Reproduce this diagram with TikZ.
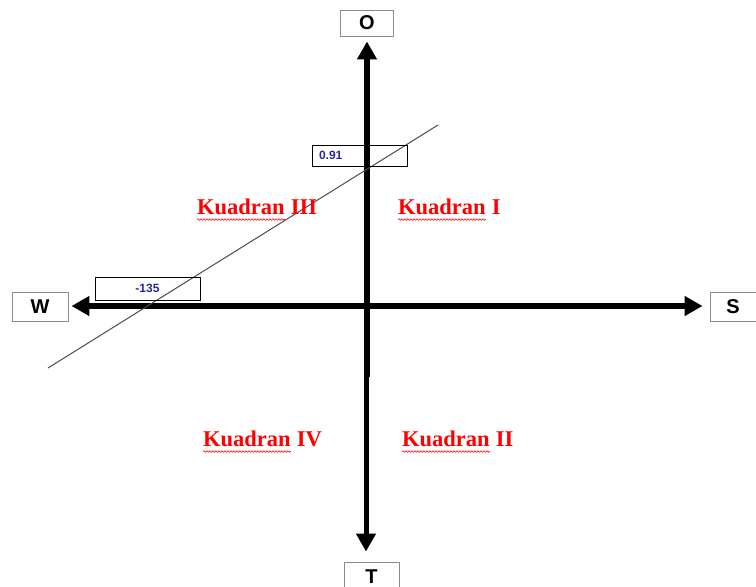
\documentclass[tikz,border=0pt]{standalone}
\usepackage{fontspec}
\setmainfont{Liberation Serif}
\setsansfont{Liberation Sans}
\usetikzlibrary{arrows.meta,decorations.pathmorphing}
\definecolor{valblue}{RGB}{40,40,160}
\definecolor{boxgray}{RGB}{140,140,140}
\tikzset{
  dirbox/.style={draw=boxgray, line width=0.9pt, fill=white, inner sep=0pt,
    font=\sffamily\bfseries\fontsize{20}{22}\selectfont},
  valbox/.style={draw=black, line width=0.8pt, inner sep=0pt,
    font=\sffamily\bfseries\fontsize{12}{14}\selectfont, text=valblue},
  axis/.style={line width=6.5pt, -{Triangle[length=18pt,width=19pt]}},
  axisboth/.style={line width=6.5pt, {Triangle[length=18pt,width=19pt]}-{Triangle[length=18pt,width=19pt]}},
  quad/.style={inner sep=0pt, anchor=base west, text=red,
    font=\rmfamily\bfseries\fontsize{22.5}{24}\selectfont},
  wavy/.style={draw=red, line width=0.6pt, decorate,
    decoration={snake, amplitude=0.8pt, segment length=3pt}},
  refline/.style={draw=black!70, line width=1pt}
}
\begin{document}
\begin{tikzpicture}[x=1pt,y=-1pt]
\useasboundingbox (0,0) rectangle (756,587);
% direction boxes
\node[dirbox, minimum width=53pt, minimum height=26pt] (boxO) at (367,23) {O};
\node[dirbox, minimum width=56pt, minimum height=29pt] (boxW) at (40,306.5) {W};
\node[dirbox, minimum width=46pt, minimum height=29pt] (boxS) at (733,307) {S};
\node[dirbox, minimum width=55pt, minimum height=29pt] (boxT) at (371.5,576.5) {T};
% centre and axes
\coordinate (ctr) at (366,306);
\coordinate (vbot) at (367,377);
\draw[axisboth, shorten <=3pt, shorten >=7pt] (boxW.east |- ctr) -- (boxS.west |- ctr);
\draw[axis, shorten >=5pt] (vbot) -- (vbot |- boxO.south);
\draw[line width=5pt, -{Triangle[length=18pt,width=19pt]}, shorten >=10pt] (ctr) -- (ctr |- boxT.north);
% reference line
\coordinate (la) at (48,368);
\coordinate (lb) at (438,125);
\draw[refline] (la) -- (lb);
% value boxes
\node[valbox, minimum height=21pt, text width=81pt, inner xsep=7pt, align=left] (v1) at (359.5,155.5) {0.91};
\node[valbox, minimum width=105pt, minimum height=23pt] (v2) at (147.5,288.5) {-135};
% quadrant labels
\node[quad] (q3) at (197,214) {Kuadran};
\node[quad] (q3n) at (q3.base east) {\ III};
\node[quad] (q1) at (398,214) {Kuadran};
\node[quad] (q1n) at (q1.base east) {\ I};
\node[quad] (q4) at (203,446) {Kuadran};
\node[quad] (q4n) at (q4.base east) {\ IV};
\node[quad] (q2) at (402,446) {Kuadran};
\node[quad] (q2n) at (q2.base east) {\ II};
\foreach \q in {q1,q2,q3,q4}{
  \draw[wavy] ([yshift=-5.5pt]\q.base west) -- ([yshift=-5.5pt]\q.base east);
}
\end{tikzpicture}
\end{document}
